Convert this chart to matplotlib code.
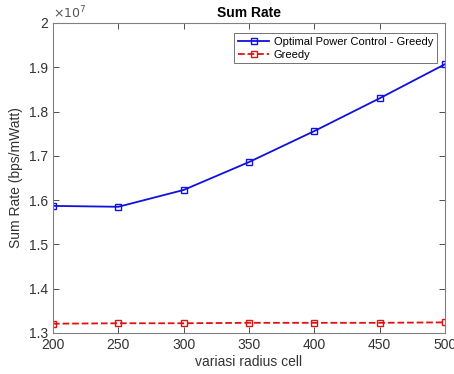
import matplotlib
matplotlib.use("Agg")
import matplotlib.pyplot as plt

radius = [200, 250, 300, 350, 400, 450, 500]
opt_greedy = [1.587, 1.585, 1.623, 1.686, 1.756, 1.830, 1.907]
greedy = [1.321, 1.322, 1.322, 1.323, 1.323, 1.323, 1.324]
yticks = [1.3, 1.4, 1.5, 1.6, 1.7, 1.8, 1.9, 2.0]
ytick_labels = ["1.3", "1.4", "1.5", "1.6", "1.7", "1.8", "1.9", "2"]

plt.rcParams['font.family'] = ['Liberation Sans', 'DejaVu Sans']
fig = plt.figure(figsize=(4.54, 3.74), dpi=100)
ax = fig.add_axes([53/454, 1-333/374, (445-53)/454, (333-23)/374])

ax.plot(radius, opt_greedy, '-s', color='#1010e0', lw=1.3, ms=4.5,
        mfc='none', mew=1.0, label='Optimal Power Control - Greedy')
ax.plot(radius, greedy, '--s', color='#e01010', lw=1.3, ms=4.5,
        mfc='none', mew=1.0, label='Greedy')

ax.set_xlim(200, 500)
ax.set_ylim(1.3, 2.0)
ax.set_xticks(radius)
ax.set_yticks(yticks)
ax.set_yticklabels(ytick_labels)
ax.tick_params(direction='in', top=True, right=True, labelsize=10,
               colors='#333333', length=4, width=0.6)
for s in ax.spines.values():
    s.set_color('#808080')
    s.set_linewidth(0.8)

ax.set_title('Sum Rate', fontsize=10, fontweight='bold', pad=4)
ax.set_xlabel('variasi radius cell', fontsize=10, color='#333333', labelpad=2)
ax.set_ylabel('Sum Rate (bps/mWatt)', fontsize=10, color='#333333', labelpad=4)
ax.text(0.0, 1.005, r'$\times10^{7}$', transform=ax.transAxes, fontsize=9,
        color='#555555', ha='left', va='bottom')

leg = ax.legend(loc='upper right', fontsize=8, frameon=True, fancybox=False,
                edgecolor='#333333', handlelength=2.8, handletextpad=0.4,
                borderpad=0.35, labelspacing=0.25, borderaxespad=0,
                bbox_to_anchor=(0.98, 0.968))
leg.get_frame().set_linewidth(0.6)

fig.savefig('out.png', dpi=100)
